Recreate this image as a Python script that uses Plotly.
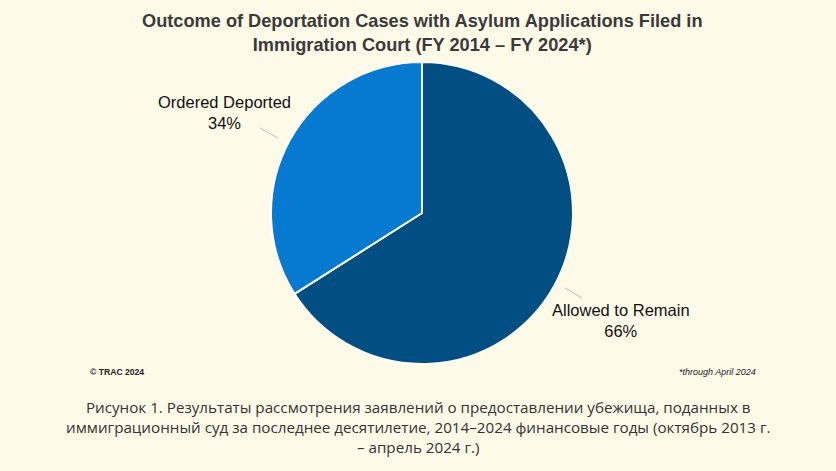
import plotly.graph_objects as go

# Data
labels = ["Allowed to Remain", "Ordered Deported"]
values = [66, 34]
colors = ["#004e82", "#0679d0"]

title_text = ("Outcome of Deportation Cases with Asylum Applications Filed in<br>"
              "Immigration Court (FY 2014 \u2013 FY 2024*)")
credit_text = "\u00a9 TRAC 2024"
note_text = "*through April 2024"
caption_text = ("Рисунок 1. Результаты рассмотрения заявлений о предоставлении убежища, поданных в<br>"
                "иммиграционный суд за последнее десятилетие, 2014\u20132024 финансовые годы (октябрь 2013 г.<br>"
                "\u2013 апрель 2024 г.)")

W, H = 836, 471
bg = "#fefae8"

fig = go.Figure()
fig.add_trace(go.Pie(
    labels=labels,
    values=values,
    sort=False,
    direction="clockwise",
    rotation=0,
    marker=dict(colors=colors, line=dict(color="white", width=2)),
    textinfo="none",
    hoverinfo="label+percent",
    showlegend=False,
    domain=dict(x=[(422 - 151) / W, (422 + 151) / W], y=[(H - 364) / H, (H - 62) / H]),
))

total = sum(values)
pct = [f"{round(100 * v / total)}%" for v in values]

def px(x):
    return x / W

def py(y):
    return 1 - y / H

lab_font = dict(family="Liberation Sans, Arial", size=16.5, color="#111")
ann = []
# slice labels
ann.append(dict(x=px(621), y=py(320), text=f"{labels[0]}<br>{pct[0]}", showarrow=False,
                xanchor="center", yanchor="middle", font=lab_font))
ann.append(dict(x=px(224), y=py(113), text=f"{labels[1]}<br>{pct[1]}", showarrow=False,
                xanchor="center", yanchor="middle", font=lab_font))
# title
ann.append(dict(x=px(422), y=py(33), text=f"<b>{title_text}</b>", showarrow=False,
                xanchor="center", yanchor="middle",
                font=dict(family="Liberation Sans, Arial", size=18.2, color="#3a3a3a")))
# footnotes
ann.append(dict(x=px(88), y=py(372), text=f"<b>{credit_text}</b>", showarrow=False,
                xanchor="left", yanchor="middle",
                font=dict(family="Liberation Sans, Arial", size=8.6, color="#222")))
ann.append(dict(x=px(758), y=py(372), text=f"<i>{note_text}</i>", showarrow=False,
                xanchor="right", yanchor="middle",
                font=dict(family="Liberation Sans, Arial", size=9, color="#222")))
# caption
ann.append(dict(x=px(418), y=py(427), text=caption_text, showarrow=False,
                xanchor="center", yanchor="middle",
                font=dict(family="Open Sans", size=15.2, color="#333")))

shapes = [
    dict(type="line", xref="paper", yref="paper", x0=px(260), y0=py(128), x1=px(278), y1=py(138),
         line=dict(color="#c8c8c8", width=1.2)),
    dict(type="line", xref="paper", yref="paper", x0=px(565), y0=py(288), x1=px(582), y1=py(298),
         line=dict(color="#c8c8c8", width=1.2)),
]

fig.update_layout(
    width=W, height=H,
    margin=dict(l=0, r=0, t=0, b=0),
    paper_bgcolor=bg, plot_bgcolor=bg,
    annotations=ann, shapes=shapes,
)

fig.write_html("out.html")
